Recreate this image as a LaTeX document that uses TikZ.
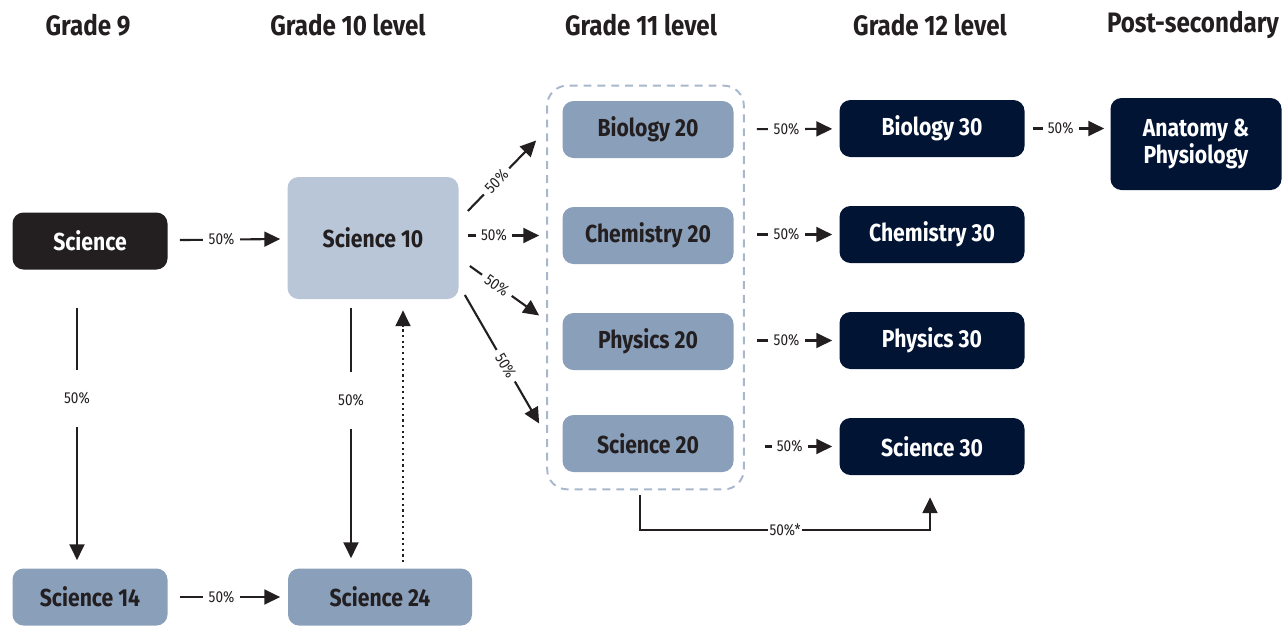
\documentclass[tikz,border=0pt]{standalone}
\usepackage{fontspec}
\setmainfont[FakeStretch=0.86]{Fira Sans}
\usepackage{tikz}
\usetikzlibrary{arrows.meta,positioning,calc}
\definecolor{inkdark}{HTML}{231F20}
\definecolor{navy}{HTML}{011433}
\definecolor{paleblue}{HTML}{B9C6D8}
\definecolor{midblue}{HTML}{8A9FBA}
\definecolor{dashblue}{HTML}{A9B7CC}

\begin{document}
\begin{tikzpicture}[
    course/.style={rounded corners=0.22cm, minimum width=3.42cm, minimum height=1.14cm,
      font=\fontsize{14}{15}\selectfont\bfseries, align=center, inner sep=0pt},
    grade/.style={font=\fontsize{16}{18}\selectfont\bfseries, text=inkdark},
    flow/.style={draw=inkdark, line width=1.2pt, -{Triangle[length=9pt,width=8.5pt]}},
    pct/.style={fill=white, font=\fontsize{9}{10}\selectfont, text=inkdark, inner xsep=3pt, inner ysep=1pt}
  ]
    \useasboundingbox (0,0) rectangle (25.7,-12.52);

    % headings
    \node [grade] (g9) at (1.76,-0.5) {Grade 9};
    \node [grade] (g10) at (6.96,-0.5) {Grade 10 level};
    \node [grade] (g11) at (12.82,-0.5) {Grade 11 level};
    \node [grade] (g12) at (18.6,-0.5) {Grade 12 level};
    \node [grade] (gps) at (23.86,-0.5) {Post-secondary};

    % grade 9 and 10
    \node [course, fill=inkdark, text=white, minimum width=3.1cm] (sci) at (1.8,-4.82) {Science};
    \node [course, fill=paleblue, text=inkdark, minimum height=2.44cm] (sci10) at (7.46,-4.76) {Science 10};
    \node [course, fill=midblue, text=inkdark, minimum width=3.1cm] (sci14) at (1.8,-11.94) {Science 14};
    \node [course, fill=midblue, text=inkdark, minimum width=3.68cm] (sci24) at (7.6,-11.94) {Science 24};

    % grade 11
    \node [course, fill=midblue, text=inkdark] (bio20) at (12.96,-2.59) {Biology 20};
    \node [course, fill=midblue, text=inkdark] (chem20) at (12.96,-4.71) {Chemistry 20};
    \node [course, fill=midblue, text=inkdark] (phys20) at (12.96,-6.83) {Physics 20};
    \node [course, fill=midblue, text=inkdark] (sci20) at (12.96,-8.87) {Science 20};

    % grade 12 and after
    \node [course, fill=navy, text=white, minimum width=3.7cm] (bio30) at (18.64,-2.57) {Biology 30};
    \node [course, fill=navy, text=white, minimum width=3.7cm] (chem30) at (18.64,-4.69) {Chemistry 30};
    \node [course, fill=navy, text=white, minimum width=3.7cm] (phys30) at (18.64,-6.81) {Physics 30};
    \node [course, fill=navy, text=white, minimum width=3.7cm] (sci30) at (18.64,-8.93) {Science 30};
    \node [course, fill=navy, text=white, minimum height=1.84cm] (ana) at (23.92,-2.88) {Anatomy \&\\Physiology};

    \draw [dashblue, line width=1.1pt, dash pattern=on 4.5pt off 3.4pt, rounded corners=0.4cm]
      ([xshift=-0.3cm,yshift=0.3cm]bio20.north west) rectangle ([xshift=0.2cm,yshift=-0.34cm]sci20.south east);

    % connectors
    \draw [flow, shorten <=0.24cm, shorten >=0.14cm] (sci) -- node [pct, pos=0.45] {50\%} (sci10);
    \draw [flow, shorten <=0.24cm, shorten >=0.14cm] (sci14) -- node [pct, pos=0.45] {50\%} (sci24.west -| sci10.west);
    \draw [flow, shorten <=0.76cm, shorten >=0.16cm] ([xshift=-0.26cm]sci.south) -- node [pct, pos=0.43, minimum height=1.14cm] {50\%} ([xshift=-0.26cm]sci14.north);
    \draw [flow, shorten <=0.18cm, shorten >=0.2cm] ([xshift=-0.44cm]sci10.south) -- node [pct, pos=0.375, minimum height=1.14cm] {50\%} ([xshift=-0.44cm]sci10.south |- sci24.north);
    \draw [flow, dotted, shorten <=0.12cm, shorten >=0.22cm] ([xshift=0.6cm]sci10.south |- sci24.north) -- ([xshift=0.6cm]sci10.south);

    \draw [flow] ([xshift=0.18cm,yshift=0.54cm]sci10.east) -- node [pct, sloped, pos=0.42] {50\%} ([xshift=-0.52cm,yshift=-0.22cm]bio20.west);
    \draw [flow, shorten <=0.18cm, shorten >=0.46cm] (sci10.east |- chem20.west) -- node [pct, pos=0.34] {50\%} (chem20.west);
    \draw [flow] ([xshift=0.22cm,yshift=-0.56cm]sci10.east) -- node [pct, sloped, pos=0.39] {50\%} ([xshift=-0.46cm,yshift=0.52cm]phys20.west);
    \draw [flow] ([xshift=0.12cm,yshift=-1.14cm]sci10.east) -- node [pct, sloped, pos=0.55] {50\%} ([xshift=-0.46cm,yshift=0.4cm]sci20.west);

    \draw [flow, shorten <=0.46cm, shorten >=0.14cm] (bio20) -- node [pct, pos=0.5] {50\%} (bio30);
    \draw [flow, shorten <=0.46cm, shorten >=0.14cm] (chem20.east |- chem30.west) -- node [pct, pos=0.5] {50\%} (chem30);
    \draw [flow, shorten <=0.46cm, shorten >=0.14cm] (phys20.east |- phys30.west) -- node [pct, pos=0.5] {50\%} (phys30);
    \draw [flow, shorten <=0.62cm, shorten >=0.14cm] (sci20.east |- sci30.west) -- node [pct, pos=0.53] {50\%} (sci30);
    \draw [flow, shorten <=0.16cm, shorten >=0.12cm] (bio30.east) -- node [pct, pos=0.42] {50\%} (bio30.east -| ana.west);

    \draw [flow] ([xshift=-0.16cm,yshift=-0.46cm]sci20.south) -- ++(0,-0.7) -| node [pct, pos=0.25, inner xsep=1pt] {50\%*} ([xshift=-0.04cm,yshift=-0.44cm]sci30.south);
\end{tikzpicture}
\end{document}
